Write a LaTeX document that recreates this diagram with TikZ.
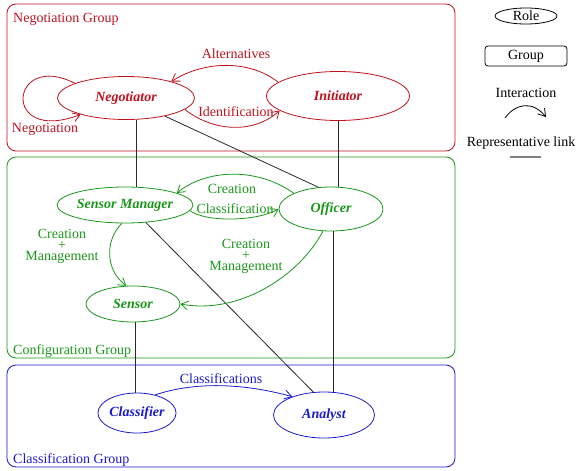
\documentclass[tikz,border=0pt]{standalone}
\usepackage{fontspec}
\setmainfont{Liberation Serif}
\usetikzlibrary{arrows.meta,shapes.geometric}
\definecolor{negred}{RGB}{190,18,30}
\definecolor{cfggreen}{RGB}{26,150,26}
\definecolor{clsblue}{RGB}{26,26,205}
\definecolor{linkgray}{RGB}{40,40,40}
\tikzset{
  every node/.style={font=\fontsize{14}{15}\selectfont, inner sep=0pt},
  grp/.style={draw, rounded corners=9pt, line width=0.8pt},
  role/.style={draw, ellipse, line width=0.8pt, font=\fontsize{14}{15}\selectfont\bfseries\itshape},
  inter/.style={line width=0.8pt, -{Straight Barb[length=7pt,width=9pt,line width=0.8pt]}},
  replink/.style={draw=linkgray, line width=0.8pt},
}
\begin{document}
\begin{tikzpicture}[x=1pt,y=-1pt]
\useasboundingbox (0,0) rectangle (579,471);

% groups
\draw[grp, negred] (7,4) rectangle (455,151);
\node[negred, anchor=base west] (gneg) at (13,23) {Negotiation Group};
\draw[grp, cfggreen] (7,157) rectangle (455,358);
\node[cfggreen, anchor=base west] (gcfg) at (13,354) {Configuration Group};
\draw[grp, clsblue] (7,365) rectangle (455,467);
\node[clsblue, anchor=base west] (gcls) at (13,463) {Classification Group};

% roles
\node[role, negred, minimum width=137pt, minimum height=43pt] (neg) at (126,98) {Negotiator};
\node[role, negred, minimum width=143pt, minimum height=49pt] (ini) at (338,96) {Initiator};
\node[role, cfggreen, minimum width=119pt, minimum height=36pt] (sm) at (125,205) {Sensor Manager};
\node[role, cfggreen, minimum width=104pt, minimum height=44pt] (off) at (331,209) {Officer};
\node[role, cfggreen, minimum width=94pt, minimum height=36pt] (sen) at (133,304) {Sensor};
\node[role, clsblue, minimum width=78pt, minimum height=40pt] (cla) at (137,413) {Classifier};
\node[role, clsblue, minimum width=101pt, minimum height=46pt] (ana) at (324,415) {Analyst};

% representative links
\draw[replink] (neg.south -| 136,0) -- (sm.north -| 136,0);
\draw[replink] (neg.-25) -- (off.120);
\draw[replink] (ini.south) -- (off.north -| ini.south);
\draw[replink] (sm.-40) -- (ana.115);
\draw[replink] (off.south -| 333,0) -- (ana.north -| 333,0);
\draw[replink] (sen.south -| 135,0) -- (cla.north -| 135,0);

% interactions: negotiation group
\draw[inter, negred] (neg.164) .. controls (10,50) and (0,145) .. (neg.200);
\node[negred] (lneg) at (45,129) {Negotiation};
\draw[inter, negred] (ini.167) .. controls (250,60) and (205,60) .. (neg.20);
\node[negred] (lalt) at (236,54) {Alternatives};
\draw[inter, negred] (neg.-11) .. controls (215,133) and (255,133) .. (ini.194);
\node[negred] (lide) at (236,112) {Identification};

% interactions: configuration group
\draw[inter, cfggreen] (off.157) .. controls (255,166) and (205,170) .. (sm.13);
\node[cfggreen] (lcre) at (232,189) {Creation};
\draw[inter, cfggreen] (sm.-5) .. controls (205,222) and (255,222) .. (off.180);
\node[cfggreen] (lclf) at (235,209) {Classification};
\draw[inter, cfggreen] (sm.-100) .. controls (105,240) and (105,270) .. (sen.110);
\node[cfggreen, align=center] (lcm1) at (62,246) {Creation\\[-4pt]+\\[-4pt]Management};
\draw[inter, cfggreen] (off.-110) .. controls (300,275) and (240,315) .. (sen.east);
\node[cfggreen, align=center] (lcm2) at (246,256) {Creation\\[-4pt]+\\[-4pt]Management};

% interactions: classification group
\draw[inter, clsblue] (cla.45) .. controls (200,380) and (250,385) .. (ana.150);
\node[clsblue] (lcls) at (221,379) {Classifications};

% legend
\node[draw, ellipse, line width=0.8pt, minimum width=62pt, minimum height=16pt] (lrole) at (526,16) {Role};
\node[draw, rounded corners=3pt, line width=0.8pt, minimum width=82pt, minimum height=20pt] (lgrp) at (526,56) {Group};
\node (lint) at (526,93) {Interaction};
\coordinate (ia) at (505,118);
\coordinate (ib) at (546,117);
\draw[inter] (ia) .. controls (515,104) and (532,100) .. (ib);
\node (lrep) at (521,143) {Representative link};
\coordinate (ra) at (510,157);
\coordinate (rb) at (541,157);
\draw[replink, draw=gray, line width=1.2pt] (ra) -- (rb);
\end{tikzpicture}
\end{document}
